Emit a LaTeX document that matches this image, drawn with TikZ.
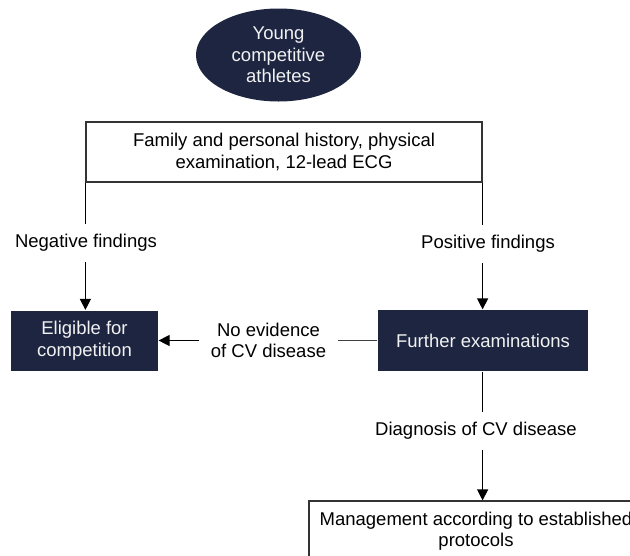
\documentclass[tikz,border=0pt]{standalone}
\usepackage{fontspec}
\setmainfont{Liberation Sans}
\usepackage{xcolor}
\usetikzlibrary{shapes,arrows.meta,positioning}
\definecolor{navy}{RGB}{29,37,64}

\begin{document}
\begin{tikzpicture}[x=1pt,y=-1pt,>={Triangle[length=11pt,width=11pt]},line width=1.2pt,
        font=\fontsize{18.5}{21.5}\selectfont,
        dark/.style={fill=navy,text=white!95!black,align=center,inner sep=0pt},
        plain/.style={draw=black!80,align=center,inner sep=0pt},
        lbl/.style={fill=white,align=center,inner xsep=11pt,inner ysep=10pt}]
                \useasboundingbox (0,0) rectangle (630,555);
                \clip (0,0) rectangle (630,555);
                \node[dark,ellipse,minimum width=165,minimum height=93] (start) at (278.5,55) {Young\\competitive\\athletes};
                \node[plain,minimum width=396,minimum height=60] (hist) at (284,152) {Family and personal history, physical\\examination, 12-lead ECG};
                \node[dark,minimum width=147,minimum height=60] (elig) at (84.5,340.5) {Eligible for\\competition};
                \node[dark,minimum width=210,minimum height=61] (exam) at (483,340.5) {Further examinations};
                \node[plain,minimum width=334,minimum height=60] (mgmt) at (476,531) {Management according to established\\protocols};
                % edge labels
                \node[lbl] (neg) at (86,243) {Negative findings};
                \node[lbl] (pos) at (488,244) {Positive findings};
                \node[lbl] (noev) at (268.5,340.5) {No evidence\\of CV disease};
                \node[lbl] (diag) at (476,431) {Diagnosis of CV disease};
                \draw (hist.south west) -- (neg.north -| hist.south west);
                \draw[->] (neg.south -| hist.south west) -- (elig.north -| hist.south west);
                \draw (hist.south east) -- (pos.north -| hist.south east);
                \draw[->] (pos.south -| hist.south east) -- (exam.north -| hist.south east);
                \draw[black!75] (exam.west) -- (noev.east);
                \draw[->] (noev.west) -- (elig.east);
                \draw (exam.south -| hist.south east) -- (diag.north -| hist.south east);
                \draw[->] (diag.south -| hist.south east) -- (mgmt.north -| hist.south east);
            \end{tikzpicture}
\end{document}
